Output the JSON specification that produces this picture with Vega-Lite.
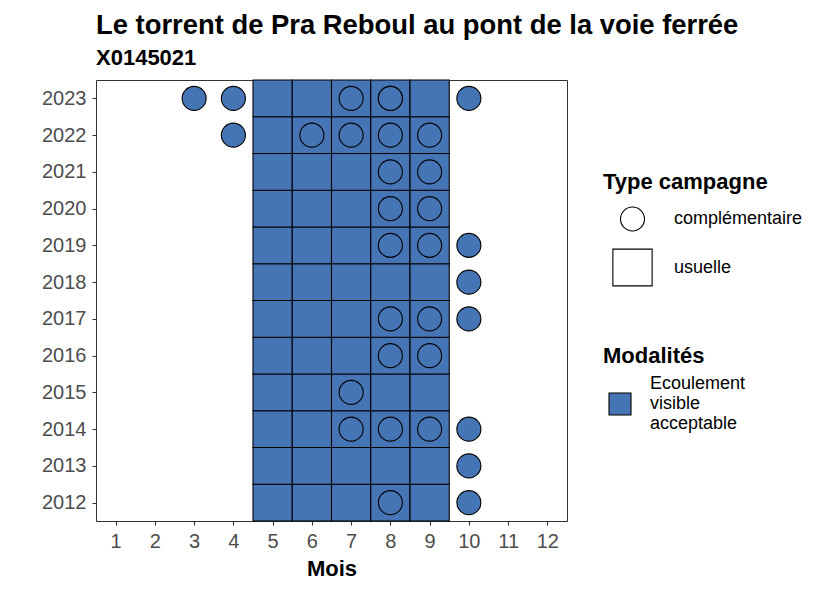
{
  "$schema": "https://vega.github.io/schema/vega-lite/v6.json",
  "autosize": {"type": "none"},
  "padding": {"left": 96, "top": 80, "right": 259, "bottom": 69},
  "width": 471,
  "height": 441,
  "background": "white",
  "title": {
    "text": "Le torrent de Pra Reboul au pont de la voie ferrée",
    "subtitle": "X0145021",
    "anchor": "start",
    "frame": "group",
    "font": "Liberation Sans",
    "fontSize": 27.4,
    "fontWeight": "bold",
    "color": "black",
    "subtitleFont": "Liberation Sans",
    "subtitleFontSize": 22,
    "subtitleFontWeight": "bold",
    "subtitleColor": "black",
    "subtitlePadding": 8,
    "offset": 9
  },
  "data": {
    "values": [
      {"annee": 2012, "mois": 5, "type": "usuelle", "modalite": "Ecoulement visible acceptable"},
      {"annee": 2012, "mois": 6, "type": "usuelle", "modalite": "Ecoulement visible acceptable"},
      {"annee": 2012, "mois": 7, "type": "usuelle", "modalite": "Ecoulement visible acceptable"},
      {"annee": 2012, "mois": 8, "type": "usuelle", "modalite": "Ecoulement visible acceptable"},
      {"annee": 2012, "mois": 9, "type": "usuelle", "modalite": "Ecoulement visible acceptable"},
      {"annee": 2013, "mois": 5, "type": "usuelle", "modalite": "Ecoulement visible acceptable"},
      {"annee": 2013, "mois": 6, "type": "usuelle", "modalite": "Ecoulement visible acceptable"},
      {"annee": 2013, "mois": 7, "type": "usuelle", "modalite": "Ecoulement visible acceptable"},
      {"annee": 2013, "mois": 8, "type": "usuelle", "modalite": "Ecoulement visible acceptable"},
      {"annee": 2013, "mois": 9, "type": "usuelle", "modalite": "Ecoulement visible acceptable"},
      {"annee": 2014, "mois": 5, "type": "usuelle", "modalite": "Ecoulement visible acceptable"},
      {"annee": 2014, "mois": 6, "type": "usuelle", "modalite": "Ecoulement visible acceptable"},
      {"annee": 2014, "mois": 7, "type": "usuelle", "modalite": "Ecoulement visible acceptable"},
      {"annee": 2014, "mois": 8, "type": "usuelle", "modalite": "Ecoulement visible acceptable"},
      {"annee": 2014, "mois": 9, "type": "usuelle", "modalite": "Ecoulement visible acceptable"},
      {"annee": 2015, "mois": 5, "type": "usuelle", "modalite": "Ecoulement visible acceptable"},
      {"annee": 2015, "mois": 6, "type": "usuelle", "modalite": "Ecoulement visible acceptable"},
      {"annee": 2015, "mois": 7, "type": "usuelle", "modalite": "Ecoulement visible acceptable"},
      {"annee": 2015, "mois": 8, "type": "usuelle", "modalite": "Ecoulement visible acceptable"},
      {"annee": 2015, "mois": 9, "type": "usuelle", "modalite": "Ecoulement visible acceptable"},
      {"annee": 2016, "mois": 5, "type": "usuelle", "modalite": "Ecoulement visible acceptable"},
      {"annee": 2016, "mois": 6, "type": "usuelle", "modalite": "Ecoulement visible acceptable"},
      {"annee": 2016, "mois": 7, "type": "usuelle", "modalite": "Ecoulement visible acceptable"},
      {"annee": 2016, "mois": 8, "type": "usuelle", "modalite": "Ecoulement visible acceptable"},
      {"annee": 2016, "mois": 9, "type": "usuelle", "modalite": "Ecoulement visible acceptable"},
      {"annee": 2017, "mois": 5, "type": "usuelle", "modalite": "Ecoulement visible acceptable"},
      {"annee": 2017, "mois": 6, "type": "usuelle", "modalite": "Ecoulement visible acceptable"},
      {"annee": 2017, "mois": 7, "type": "usuelle", "modalite": "Ecoulement visible acceptable"},
      {"annee": 2017, "mois": 8, "type": "usuelle", "modalite": "Ecoulement visible acceptable"},
      {"annee": 2017, "mois": 9, "type": "usuelle", "modalite": "Ecoulement visible acceptable"},
      {"annee": 2018, "mois": 5, "type": "usuelle", "modalite": "Ecoulement visible acceptable"},
      {"annee": 2018, "mois": 6, "type": "usuelle", "modalite": "Ecoulement visible acceptable"},
      {"annee": 2018, "mois": 7, "type": "usuelle", "modalite": "Ecoulement visible acceptable"},
      {"annee": 2018, "mois": 8, "type": "usuelle", "modalite": "Ecoulement visible acceptable"},
      {"annee": 2018, "mois": 9, "type": "usuelle", "modalite": "Ecoulement visible acceptable"},
      {"annee": 2019, "mois": 5, "type": "usuelle", "modalite": "Ecoulement visible acceptable"},
      {"annee": 2019, "mois": 6, "type": "usuelle", "modalite": "Ecoulement visible acceptable"},
      {"annee": 2019, "mois": 7, "type": "usuelle", "modalite": "Ecoulement visible acceptable"},
      {"annee": 2019, "mois": 8, "type": "usuelle", "modalite": "Ecoulement visible acceptable"},
      {"annee": 2019, "mois": 9, "type": "usuelle", "modalite": "Ecoulement visible acceptable"},
      {"annee": 2020, "mois": 5, "type": "usuelle", "modalite": "Ecoulement visible acceptable"},
      {"annee": 2020, "mois": 6, "type": "usuelle", "modalite": "Ecoulement visible acceptable"},
      {"annee": 2020, "mois": 7, "type": "usuelle", "modalite": "Ecoulement visible acceptable"},
      {"annee": 2020, "mois": 8, "type": "usuelle", "modalite": "Ecoulement visible acceptable"},
      {"annee": 2020, "mois": 9, "type": "usuelle", "modalite": "Ecoulement visible acceptable"},
      {"annee": 2021, "mois": 5, "type": "usuelle", "modalite": "Ecoulement visible acceptable"},
      {"annee": 2021, "mois": 6, "type": "usuelle", "modalite": "Ecoulement visible acceptable"},
      {"annee": 2021, "mois": 7, "type": "usuelle", "modalite": "Ecoulement visible acceptable"},
      {"annee": 2021, "mois": 8, "type": "usuelle", "modalite": "Ecoulement visible acceptable"},
      {"annee": 2021, "mois": 9, "type": "usuelle", "modalite": "Ecoulement visible acceptable"},
      {"annee": 2022, "mois": 5, "type": "usuelle", "modalite": "Ecoulement visible acceptable"},
      {"annee": 2022, "mois": 6, "type": "usuelle", "modalite": "Ecoulement visible acceptable"},
      {"annee": 2022, "mois": 7, "type": "usuelle", "modalite": "Ecoulement visible acceptable"},
      {"annee": 2022, "mois": 8, "type": "usuelle", "modalite": "Ecoulement visible acceptable"},
      {"annee": 2022, "mois": 9, "type": "usuelle", "modalite": "Ecoulement visible acceptable"},
      {"annee": 2023, "mois": 5, "type": "usuelle", "modalite": "Ecoulement visible acceptable"},
      {"annee": 2023, "mois": 6, "type": "usuelle", "modalite": "Ecoulement visible acceptable"},
      {"annee": 2023, "mois": 7, "type": "usuelle", "modalite": "Ecoulement visible acceptable"},
      {"annee": 2023, "mois": 8, "type": "usuelle", "modalite": "Ecoulement visible acceptable"},
      {"annee": 2023, "mois": 9, "type": "usuelle", "modalite": "Ecoulement visible acceptable"},
      {"annee": 2012, "mois": 8, "type": "complémentaire", "modalite": "Ecoulement visible acceptable"},
      {"annee": 2012, "mois": 10, "type": "complémentaire", "modalite": "Ecoulement visible acceptable"},
      {"annee": 2013, "mois": 10, "type": "complémentaire", "modalite": "Ecoulement visible acceptable"},
      {"annee": 2014, "mois": 7, "type": "complémentaire", "modalite": "Ecoulement visible acceptable"},
      {"annee": 2014, "mois": 8, "type": "complémentaire", "modalite": "Ecoulement visible acceptable"},
      {"annee": 2014, "mois": 9, "type": "complémentaire", "modalite": "Ecoulement visible acceptable"},
      {"annee": 2014, "mois": 10, "type": "complémentaire", "modalite": "Ecoulement visible acceptable"},
      {"annee": 2015, "mois": 7, "type": "complémentaire", "modalite": "Ecoulement visible acceptable"},
      {"annee": 2016, "mois": 8, "type": "complémentaire", "modalite": "Ecoulement visible acceptable"},
      {"annee": 2016, "mois": 9, "type": "complémentaire", "modalite": "Ecoulement visible acceptable"},
      {"annee": 2017, "mois": 8, "type": "complémentaire", "modalite": "Ecoulement visible acceptable"},
      {"annee": 2017, "mois": 9, "type": "complémentaire", "modalite": "Ecoulement visible acceptable"},
      {"annee": 2017, "mois": 10, "type": "complémentaire", "modalite": "Ecoulement visible acceptable"},
      {"annee": 2018, "mois": 10, "type": "complémentaire", "modalite": "Ecoulement visible acceptable"},
      {"annee": 2019, "mois": 8, "type": "complémentaire", "modalite": "Ecoulement visible acceptable"},
      {"annee": 2019, "mois": 9, "type": "complémentaire", "modalite": "Ecoulement visible acceptable"},
      {"annee": 2019, "mois": 10, "type": "complémentaire", "modalite": "Ecoulement visible acceptable"},
      {"annee": 2020, "mois": 8, "type": "complémentaire", "modalite": "Ecoulement visible acceptable"},
      {"annee": 2020, "mois": 9, "type": "complémentaire", "modalite": "Ecoulement visible acceptable"},
      {"annee": 2021, "mois": 8, "type": "complémentaire", "modalite": "Ecoulement visible acceptable"},
      {"annee": 2021, "mois": 9, "type": "complémentaire", "modalite": "Ecoulement visible acceptable"},
      {"annee": 2022, "mois": 4, "type": "complémentaire", "modalite": "Ecoulement visible acceptable"},
      {"annee": 2022, "mois": 6, "type": "complémentaire", "modalite": "Ecoulement visible acceptable"},
      {"annee": 2022, "mois": 7, "type": "complémentaire", "modalite": "Ecoulement visible acceptable"},
      {"annee": 2022, "mois": 8, "type": "complémentaire", "modalite": "Ecoulement visible acceptable"},
      {"annee": 2022, "mois": 9, "type": "complémentaire", "modalite": "Ecoulement visible acceptable"},
      {"annee": 2023, "mois": 3, "type": "complémentaire", "modalite": "Ecoulement visible acceptable"},
      {"annee": 2023, "mois": 4, "type": "complémentaire", "modalite": "Ecoulement visible acceptable"},
      {"annee": 2023, "mois": 7, "type": "complémentaire", "modalite": "Ecoulement visible acceptable"},
      {"annee": 2023, "mois": 8, "type": "complémentaire", "modalite": "Ecoulement visible acceptable"},
      {"annee": 2023, "mois": 8, "type": "complémentaire", "modalite": "Ecoulement visible acceptable"},
      {"annee": 2023, "mois": 10, "type": "complémentaire", "modalite": "Ecoulement visible acceptable"}
    ]
  },
  "mark": {"type": "point", "filled": true, "stroke": "black", "strokeWidth": 1.1, "opacity": 1},
  "encoding": {
    "x": {
      "field": "mois", "type": "ordinal", "title": "Mois",
      "scale": {"domain": [1,2,3,4,5,6,7,8,9,10,11,12], "paddingInner": 0, "paddingOuter": 0},
      "axis": {"labelAngle": 0, "labelPadding": 6, "titlePadding": 7}
    },
    "y": {
      "field": "annee", "type": "ordinal", "title": null,
      "scale": {"domain": [2023,2022,2021,2020,2019,2018,2017,2016,2015,2014,2013,2012], "paddingInner": 0, "paddingOuter": 0},
      "axis": {"labelPadding": 6}
    },
    "shape": {
      "field": "type", "type": "nominal", "title": "Type campagne",
      "scale": {"domain": ["complémentaire", "usuelle"], "range": ["circle", "M-1,-0.936H1V0.936H-1Z"]},
      "legend": {
        "orient": "none", "legendX": 507, "legendY": 92,
        "labelOffset": 21, "symbolOffset": 9, "rowPadding": 12,
        "symbolFillColor": "white", "symbolStrokeColor": "black",
        "encoding": {"symbols": {"fill": {"value": "white"}, "stroke": {"value": "black"}, "strokeWidth": {"value": 1.1}, "opacity": {"value": 1}}}
      }
    },
    "size": {
      "field": "type", "type": "nominal", "title": "Type campagne",
      "scale": {"domain": ["complémentaire", "usuelle"], "range": [576, 1541]},
      "legend": {
        "orient": "none", "legendX": 507, "legendY": 92,
        "labelOffset": 21, "symbolOffset": 9, "rowPadding": 12,
        "symbolFillColor": "white", "symbolStrokeColor": "black",
        "encoding": {"symbols": {"fill": {"value": "white"}, "stroke": {"value": "black"}, "strokeWidth": {"value": 1.1}, "opacity": {"value": 1}}}
      }
    },
    "fill": {
      "field": "modalite", "type": "nominal", "title": "Modalités",
      "scale": {"domain": ["Ecoulement visible acceptable"], "range": ["#4575B4"]},
      "legend": {
        "orient": "none", "legendX": 507, "legendY": 266,
        "symbolType": "square", "symbolSize": 484, "symbolOffset": 5, "labelOffset": 18,
        "titlePadding": 24,
        "labelExpr": "split(datum.label, ' ')",
        "labelLineHeight": 20.5,
        "encoding": {
          "symbols": {"stroke": {"value": "black"}, "strokeWidth": {"value": 1.1}, "opacity": {"value": 1}},
          "labels": {"dy": {"value": -20.5}}
        }
      }
    }
  },
  "config": {
    "font": "Liberation Sans",
    "view": {"stroke": "#333333", "strokeWidth": 1},
    "axis": {
      "domain": false, "grid": false,
      "tickColor": "#333333", "tickSize": 4, "tickWidth": 1.1,
      "labelColor": "#4D4D4D", "labelFontSize": 20, "labelFont": "Liberation Sans",
      "titleFont": "Liberation Sans", "titleFontSize": 22, "titleFontWeight": "bold", "titleColor": "black"
    },
    "legend": {
      "padding": 0,
      "titleFont": "Liberation Sans", "titleFontSize": 22, "titleFontWeight": "bold", "titleColor": "black", "titlePadding": 12,
      "labelFont": "Liberation Sans", "labelFontSize": 18, "labelColor": "black"
    }
  }
}
